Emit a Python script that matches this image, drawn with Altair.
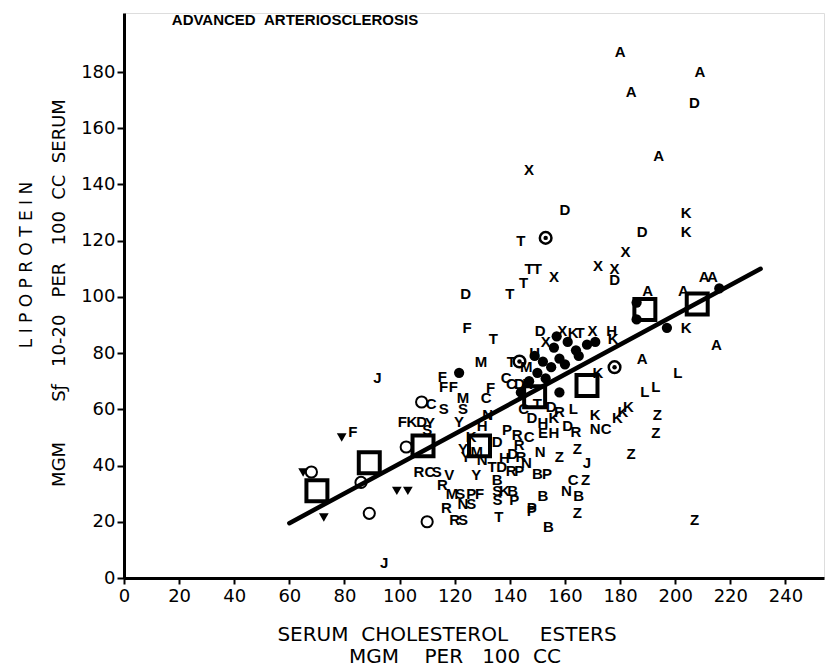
import altair as alt
import pandas as pd

# ---------------- data ----------------
letter_lab = [
    "A", "A", "A", "D", "A", "X", "D", "K", "K", "D", "T", "X", "X", "X", "D",
    "T", "T", "X", "T", "T", "D", "A", "A", "A", "A",
    "F", "T", "D", "X", "K", "T", "X", "H", "K", "K", "A", "A",
    "L", "L", "L", "K", "L", "K", "N", "C", "K", "K", "K",
    "Z", "Z", "Z", "Z", "D", "R", "Z", "Z", "J", "C", "Z", "N", "B", "Z",
    "B", "P", "B", "B", "P", "N", "E", "H",
    "M", "T", "J", "F", "F", "F", "C", "C", "D", "H",
    "C", "S", "M", "S", "F", "C", "Y", "H", "N",
    "F", "K", "D", "Y", "S", "F",
    "R", "C", "S", "V", "Y", "R", "M", "S", "P", "F", "N", "S", "R", "R", "S",
    "S", "K", "B", "B", "R", "P", "T", "S", "P", "P",
    "P", "R", "R", "N", "R", "D", "H", "T", "D",
    "Y", "Y", "M", "N", "K", "D", "J",
    "X", "H", "M", "T", "C", "D", "K", "H", "D", "R", "C",
]
letter_x = [
    180, 209, 184, 207, 194, 147, 160, 204, 204, 188, 144, 182, 172, 178, 178,
    147, 150, 156, 145, 140, 124, 210.5, 213.5, 203, 190,
    124.5, 134, 151, 159, 163, 165.5, 170, 177, 177.5, 204, 215, 188,
    201, 193, 189, 172, 163, 171, 171, 175, 179, 181, 183,
    193.5, 193, 184, 207, 161, 164, 164.5, 158, 168, 163, 167.5, 160.5, 165, 164.5,
    154, 148, 152, 150, 153.5, 151, 152, 156,
    129.5, 140.5, 92, 115.5, 116, 119.5, 138.7, 140.6, 143.5, 146.5,
    111.5, 116, 123, 123, 133, 131.4, 121.6, 130, 132,
    101, 104.5, 108, 111, 110, 83,
    107, 111, 113.5, 118, 127.8, 115.5, 119, 122, 126, 129, 123, 126, 117, 120, 123,
    135.4, 138, 141, 135.4, 140.5, 143.4, 136, 135.5, 141.6, 148,
    139, 142.7, 143.4, 146, 144, 135.4, 138, 133.6, 137,
    123, 124, 128, 130, 126, 141, 94.4,
    153, 149, 146, 150, 145, 148, 156, 152, 155, 158, 147,
]
letter_y = [
    187, 180, 173, 169, 150, 145, 131, 130, 123, 123, 120, 116, 111, 110, 106,
    110, 110, 107, 105, 101, 101, 107, 107, 102, 102,
    89, 85, 88, 88, 87, 87, 88, 88, 85, 89, 83, 78,
    73, 68, 66, 73, 60, 58, 53, 53, 57, 59, 61,
    58, 51.5, 44, 20.5, 54, 52, 46, 43, 41, 35, 35, 31, 29, 23,
    18, 24, 29, 37, 37, 45, 51.5, 51.5,
    77, 77, 71, 71.5, 68, 68, 71, 69, 69, 69,
    62, 60, 64, 60, 67.5, 64, 55.5, 54, 58,
    55.5, 55.5, 55.5, 55, 52.7, 52,
    37.7, 37.7, 37.7, 36.7, 36.7, 33, 30, 30, 30, 30, 26.5, 26.5, 25, 20.5, 20.5,
    31, 31, 31, 35, 38, 38, 21.7, 27.8, 27.8, 25,
    52.7, 51, 47.3, 41, 43, 48.4, 42.7, 39.5, 39.5,
    46, 43, 45, 42, 50, 44, 5.3,
    84, 80, 75, 62, 60, 57, 57, 55, 61, 59, 50,
]

dot_x = [121.6, 197, 216, 186, 186, 158, 168, 171, 164, 156, 152, 155, 150, 147, 160,
         165, 144, 153, 158, 161, 157, 149]
dot_y = [73, 89, 103, 98, 92, 66, 83, 84, 81, 82, 77, 75, 73, 70, 76,
         79, 66, 71, 78, 84, 86, 79]

circ_x = [108, 102.4, 86, 68, 89, 110]
circ_y = [62.6, 46.6, 34, 37.7, 23, 20]

cdot_x = [153, 143.5, 178]
cdot_y = [121, 77, 75]

tri_x = [79, 72.5, 99, 103, 65]
tri_y = [50, 21.5, 31, 31, 37.5]

mean_x = [70, 89, 108.5, 129, 149, 168, 189, 208]
mean_y = [31, 41, 47, 47, 64.5, 68.5, 95.5, 97.5]

fit_x = [60, 231]
fit_y = [19.5, 110]

x_ticks = list(range(0, 241, 20))
y_ticks = list(range(0, 181, 20))

# ---------------- chart ----------------
W, H = 700, 565
xs = alt.Scale(domain=[0, 254], nice=False, zero=False)
ys = alt.Scale(domain=[0, 201], nice=False, zero=False)

xaxis = alt.Axis(values=x_ticks, title=None, grid=False, domainWidth=3, domainColor="black",
                 tickColor="black", tickWidth=2, tickSize=6, labelFont="DejaVu Sans",
                 labelFontSize=18, labelColor="black", labelPadding=3, labelFlush=False)
yaxis = alt.Axis(values=y_ticks, title=None, grid=False, domainWidth=3, domainColor="black",
                 tickColor="black", tickWidth=2, tickSize=7, labelFont="DejaVu Sans",
                 labelFontSize=18, labelColor="black", labelPadding=2, labelFlush=False)

X = lambda f: alt.X(f, type="quantitative", scale=xs, axis=xaxis)
Y = lambda f: alt.Y(f, type="quantitative", scale=ys, axis=yaxis)

df_fit = pd.DataFrame({"x": fit_x, "y": fit_y})
df_let = pd.DataFrame({"x": letter_x, "y": letter_y, "t": letter_lab})
df_dot = pd.DataFrame({"x": dot_x, "y": dot_y})
df_circ = pd.DataFrame({"x": circ_x, "y": circ_y})
df_cdot = pd.DataFrame({"x": cdot_x, "y": cdot_y})
df_tri = pd.DataFrame({"x": tri_x, "y": tri_y})
df_mean = pd.DataFrame({"x": mean_x, "y": mean_y})

line = alt.Chart(df_fit).mark_line(color="black", strokeWidth=4.5, strokeCap="round").encode(
    x=X("x"), y=Y("y"))
letters = alt.Chart(df_let).mark_text(font="Liberation Sans", fontWeight="bold", fontSize=15,
                                      color="black", align="center", baseline="middle").encode(
    x=X("x"), y=Y("y"), text="t:N")
dots = alt.Chart(df_dot).mark_point(shape="circle", filled=True, size=105, color="black",
                                    opacity=1).encode(x=X("x"), y=Y("y"))
circs = alt.Chart(df_circ).mark_point(shape="circle", filled=False, size=125, color="black",
                                      strokeWidth=2, opacity=1).encode(x=X("x"), y=Y("y"))
cdots_o = alt.Chart(df_cdot).mark_point(shape="circle", filled=False, size=135, color="black",
                                        strokeWidth=2.5, opacity=1).encode(x=X("x"), y=Y("y"))
cdots_i = alt.Chart(df_cdot).mark_point(shape="circle", filled=True, size=20, color="black",
                                        opacity=1).encode(x=X("x"), y=Y("y"))
tris = alt.Chart(df_tri).mark_point(shape="triangle-down", filled=True, size=95, color="black",
                                    opacity=1).encode(x=X("x"), y=Y("y"))
means = alt.Chart(df_mean).mark_point(shape="square", filled=False, size=440, color="black",
                                      strokeWidth=4, opacity=1).encode(x=X("x"), y=Y("y"))


def label(txt, px, py, size=17, angle=0, weight="normal", font="DejaVu Sans"):
    return alt.Chart(pd.DataFrame({"t": [txt]})).mark_text(
        font=font, fontSize=size, fontWeight=weight, angle=angle, color="black",
        align="center", baseline="middle").encode(
        x=alt.value(px), y=alt.value(py), text="t:N")


NB = "\u00a0"
title = label("ADVANCED" + NB * 2 + "ARTERIOSCLEROSIS", 171, 7, size=15, weight="bold",
              font="Liberation Sans")
ytitle1 = label(NB.join("LIPOPROTEIN"), -97, 252, size=17, angle=270)
ytitle2 = label("MGM" + NB * 7 + "S\u0192" + NB * 3 + "10-20" + NB * 3 + "PER" + NB * 3 + "100"
                + NB * 2 + "CC" + NB * 2 + "SERUM", -64, 280, size=18, angle=270)
xtitle1 = label("SERUM" + NB * 2 + "CHOLESTEROL" + NB * 5 + "ESTERS", 323, 622, size=20)
xtitle2 = label("MGM" + NB * 4 + "PER" + NB * 3 + "100" + NB * 2 + "CC", 331, 644, size=20)

chart = alt.layer(line, means, circs, cdots_o, cdots_i, tris, dots, letters,
                  title, ytitle1, ytitle2, xtitle1, xtitle2).properties(
    width=W, height=H,
    autosize=alt.AutoSizeParams(type="none"),
    padding={"left": 116, "top": 5, "right": 3, "bottom": 92},
).configure_view(stroke=None).configure(background="white")

chart.save("out.html", embed_options={"renderer": "svg", "actions": False})
